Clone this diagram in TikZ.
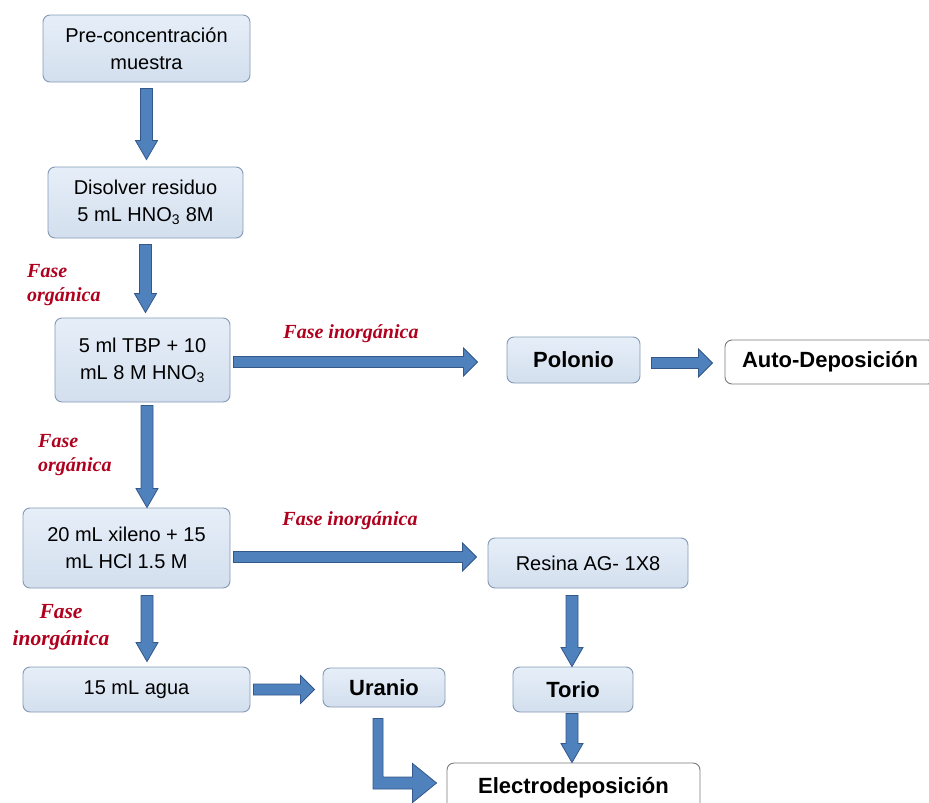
\documentclass[tikz,border=0pt]{standalone}
\usepackage{fontspec}
\setmainfont{Liberation Sans}
\newfontfamily\labfont{Liberation Serif}
\usetikzlibrary{calc}
\definecolor{arrowblue}{HTML}{4F81BD}
\definecolor{arrowedge}{HTML}{34588A}
\definecolor{boxtop}{HTML}{E6EEF8}
\definecolor{boxbot}{HTML}{D3DFEE}
\definecolor{boxedge}{HTML}{8599B4}
\definecolor{whiteedge}{HTML}{7A7A7A}
\definecolor{labred}{HTML}{B0001E}
\tikzset{
 basebox/.style={rounded corners=7pt, line width=0.9pt, align=center, inner sep=0pt},
 lightbox/.style={basebox, draw=boxedge, top color=boxtop, bottom color=boxbot,
   font=\fontsize{20}{27}\selectfont},
 boldbox/.style={lightbox, font=\fontsize{22}{27}\selectfont\bfseries},
 whitebox/.style={basebox, draw=whiteedge, fill=white, font=\fontsize{22}{27}\selectfont\bfseries},
 barrow/.style={fill=arrowblue, draw=arrowedge, line width=0.8pt, line join=miter},
 phase/.style={text=labred, font=\fontsize{20}{24}\selectfont\labfont\bfseries\itshape, inner sep=0pt},
}
\newcommand\varr[2]{\path[barrow] let \p1=(#1), \p2=(#2) in
  (\x1-6pt,\y1) -- (\x1-6pt,\y2+19pt) -- (\x1-11pt,\y2+19pt) -- (\x1,\y2)
  -- (\x1+11pt,\y2+19pt) -- (\x1+6pt,\y2+19pt) -- (\x1+6pt,\y1) -- cycle;}
\newcommand\harr[2]{\path[barrow] let \p1=(#1), \p2=(#2) in
  (\x1,\y1+5.5pt) -- (\x2-14pt,\y1+5.5pt) -- (\x2-14pt,\y1+14pt) -- (\x2,\y1)
  -- (\x2-14pt,\y1-14pt) -- (\x2-14pt,\y1-5.5pt) -- (\x1,\y1-5.5pt) -- cycle;}
\begin{document}
\begin{tikzpicture}[x=1pt,y=-1pt]
\useasboundingbox[fill=white] (0,0) rectangle (929,803);
% boxes
\node[lightbox, minimum width=207pt, minimum height=67pt] (pre) at (146.5,48.5) {Pre-concentración\\muestra};
\node[lightbox, minimum width=195pt, minimum height=71pt] (dis) at (145.5,202.5) {Disolver residuo\\5 mL HNO\textsubscript{3} 8M};
\node[lightbox, minimum width=175pt, minimum height=84pt] (tbp) at (142.5,360) {5 ml TBP + 10\\mL 8 M HNO\textsubscript{3}};
\node[lightbox, minimum width=207pt, minimum height=80pt] (xil) at (126.5,548) {20 mL xileno + 15\\mL HCl 1.5 M};
\node[lightbox, minimum width=227pt, minimum height=45pt] (agua) at (136.5,689.5) {15 mL agua};
\node[boldbox, minimum width=122pt, minimum height=39pt] (uranio) at (384,687.5) {Uranio};
\node[boldbox, minimum width=133pt, minimum height=46pt] (polonio) at (573.5,360) {Polonio};
\node[whitebox, minimum width=210pt, minimum height=44pt] (auto) at (830,362) {Auto-Deposición};
\node[lightbox, minimum width=200pt, minimum height=50pt] (resina) at (588,563) {Resina AG- 1X8};
\node[boldbox, minimum width=120pt, minimum height=45pt] (torio) at (573,689.5) {Torio};
\node[whitebox, minimum width=253pt, minimum height=50pt] (electro) at (573.5,788) {Electrodeposición};
% labels
\node[phase, align=left, anchor=north west] (l1) at (27,264) {Fase\\orgánica};
\node[phase, align=left, anchor=north west] (l2) at (38,434) {Fase\\orgánica};
\node[phase, align=center, anchor=north, font=\fontsize{21.5}{27}\selectfont\labfont\bfseries\itshape] (l3) at (61,604) {Fase\\inorgánica};
\node[phase, anchor=base] (l4) at (351,338) {Fase inorgánica};
\node[phase, anchor=base] (l5) at (350,525) {Fase inorgánica};
% vertical arrows
\varr{[yshift=-6pt]pre.south}{[yshift=7pt]dis.north}
\varr{[yshift=-6pt]dis.south}{[yshift=5pt]tbp.north}
\varr{[shift={(4.5pt,-3pt)}]tbp.south}{xil.north}
\varr{[shift={(20.5pt,-7pt)}]xil.south}{[yshift=5pt]agua.north}
\varr{[shift={(-16pt,-7pt)}]resina.south}{torio.north}
\varr{[shift={(-1pt,-1pt)}]torio.south}{electro.north}
% horizontal arrows
\harr{[shift={(3pt,-2pt)}]tbp.east}{[xshift=-29pt]polonio.west}
\harr{[shift={(11pt,-3pt)}]polonio.east}{[xshift=-12pt]auto.west}
\harr{[shift={(3pt,-9pt)}]xil.east}{[xshift=-11pt]resina.west}
\harr{[shift={(3pt,0pt)}]agua.east}{[xshift=-8pt]uranio.west}
% elbow arrow
\path[barrow] let \p1=([shift={(-6pt,-11pt)}]uranio.south), \p2=([shift={(-10pt,5pt)}]electro.west) in
  (\x1-5pt,\y1) -- (\x1-5pt,\y2-6pt) -- (\x2-24pt,\y2-6pt) -- (\x2-24pt,\y2-19.5pt) -- (\x2,\y2)
  -- (\x2-24pt,\y2+19.5pt) -- (\x2-24pt,\y2+6pt) -- (\x1+5pt,\y2+6pt) -- (\x1+5pt,\y1) -- cycle;
\end{tikzpicture}
\end{document}
